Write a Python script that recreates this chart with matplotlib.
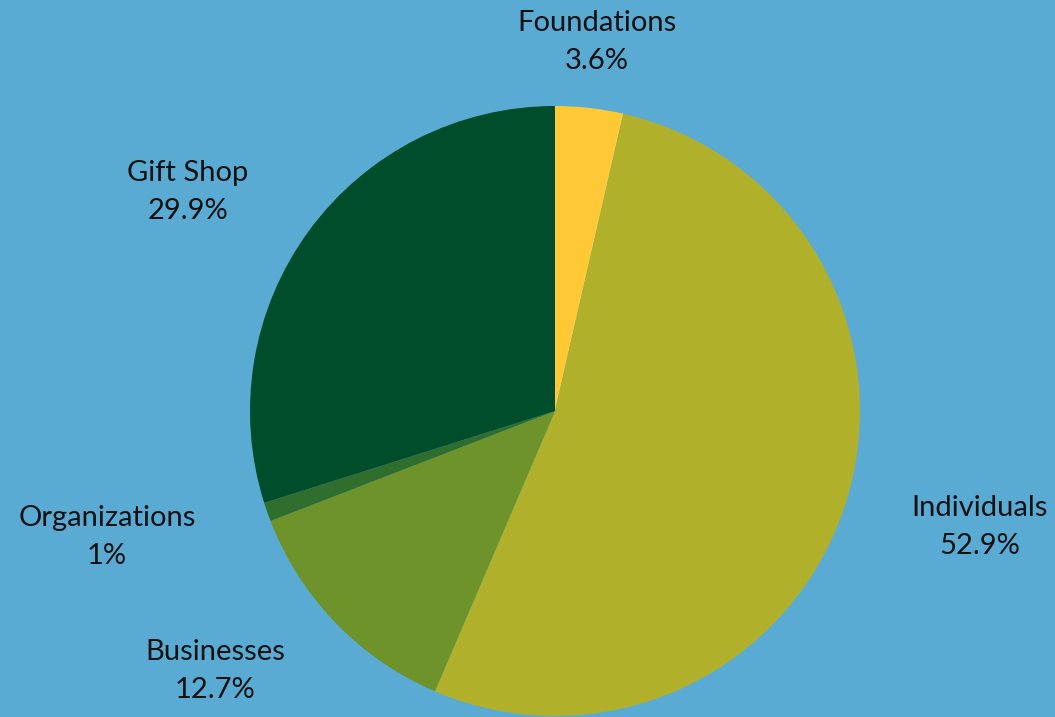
import matplotlib
matplotlib.use("Agg")
import matplotlib.pyplot as plt

# data
sources = ["Foundations", "Individuals", "Businesses", "Organizations", "Gift Shop"]
shares = [3.6, 52.9, 12.7, 1, 29.9]
pct_labels = ["3.6%", "52.9%", "12.7%", "1%", "29.9%"]
colors = ["#FFC935", "#B0B02A", "#6E932A", "#2F6E2D", "#004D2B"]

# label anchor positions (pixels from top-left), layout only
label_pos = [(597, 42), (980, 527), (215, 671), (107, 537), (188, 192)]

W, H = 1055, 717
fig = plt.figure(figsize=(W / 100, H / 100), dpi=100)
fig.patch.set_facecolor("#5AABD4")
ax = fig.add_axes([0, 0, 1, 1])

ax.pie(shares, colors=colors, startangle=90, counterclock=False,
       center=(555, H - 411), radius=305, frame=True,
       wedgeprops=dict(linewidth=0))
ax.set_xlim(0, W)
ax.set_ylim(0, H)
ax.axis("off")

for name, pct, (x, y) in zip(sources, pct_labels, label_pos):
    ax.text(x, H - y, name + "\n" + pct, ha="center", va="center",
            fontsize=21, family="Lato", color="#111111",
            linespacing=1.58)

fig.savefig("out.png", dpi=100, facecolor=fig.get_facecolor())
